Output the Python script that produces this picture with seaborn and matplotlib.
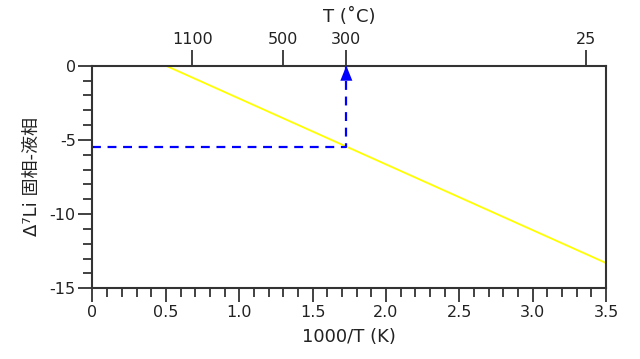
import matplotlib
matplotlib.use("Agg")
import matplotlib.pyplot as plt
import seaborn as sns
import pandas as pd
from matplotlib.ticker import MultipleLocator

# Data
line_x = [0.5, 3.5]          # 1000/T (K)
line_y = [0.0, -13.3]        # Δ7Li solid-liquid
guide_x = [0.0, 1.73, 1.73]  # dashed guide
guide_y = [-5.5, -5.5, 0.0]
top_tick_labels = ["1100", "500", "300", "25"]
top_tick_pos = [0.68, 1.30, 1.73, 3.36]
x_ticks = [0, 0.5, 1.0, 1.5, 2.0, 2.5, 3.0, 3.5]
x_tick_labels = ["0", "0.5", "1.0", "1.5", "2.0", "2.5", "3.0", "3.5"]
y_ticks = [0, -5, -10, -15]
y_tick_labels = ["0", "-5", "-10", "-15"]

sns.set_theme(style="white")
plt.rcParams['font.family'] = ['DejaVu Sans', 'Noto Sans CJK JP']
plt.rcParams['axes.unicode_minus'] = False

fig = plt.figure(figsize=(6.4, 3.59), dpi=100)
ax = fig.add_axes([0.1445, 0.197, 0.8025, 0.62])

df_line = pd.DataFrame({"x": line_x, "y": line_y})
df_guide = pd.DataFrame({"x": guide_x, "y": guide_y})
sns.lineplot(data=df_line, x="x", y="y", ax=ax, color="#ffff00", linewidth=1.3,
             sort=False, estimator=None)
sns.lineplot(data=df_guide, x="x", y="y", ax=ax, color="#0000ff", linewidth=1.6,
             linestyle=(0, (4, 3)), sort=False, estimator=None)
ax.annotate("", xy=(guide_x[-1], guide_y[-1]), xytext=(guide_x[-1], guide_y[-1] - 1.1),
            arrowprops=dict(arrowstyle="-|>,head_length=0.9,head_width=0.36",
                            color="#0000ff", lw=0.01, shrinkA=0, shrinkB=0))

ax.set_xlim(0, 3.5)
ax.set_ylim(-15, 0)
ax.set_xticks(x_ticks)
ax.set_xticklabels(x_tick_labels)
ax.set_yticks(y_ticks)
ax.set_yticklabels(y_tick_labels)
ax.xaxis.set_minor_locator(MultipleLocator(0.1))
ax.yaxis.set_minor_locator(MultipleLocator(1))

spine_color = "#333333"
for s in ax.spines.values():
    s.set_color(spine_color)
    s.set_linewidth(1.5)

ax.tick_params(axis="both", which="major", direction="out", length=10, width=1.3,
               color=spine_color, labelsize=11.5, labelcolor="#222222", pad=2,
               bottom=True, left=True)
ax.tick_params(axis="both", which="minor", direction="out", length=6.5, width=1.3,
               color=spine_color, bottom=True, left=True)

ax.set_xlabel("1000/T (K)", fontsize=13, color="#222222", labelpad=6)
ax.set_ylabel("Δ⁷Li 固相-液相", fontsize=13, color="#222222", labelpad=6,
              family=['DejaVu Sans', 'Noto Sans CJK JP'])

ax2 = ax.twiny()
ax2.set_xlim(ax.get_xlim())
ax2.set_xticks(top_tick_pos)
ax2.set_xticklabels(top_tick_labels)
ax2.tick_params(axis="x", which="major", direction="out", length=11.5, width=1.3,
                color=spine_color, labelsize=11.5, labelcolor="#222222", pad=2, top=True)
for s in ax2.spines.values():
    s.set_visible(False)
ax2.set_xlabel("T (˚C)", fontsize=13, color="#222222", labelpad=7)

fig.savefig("out.png", dpi=100)
